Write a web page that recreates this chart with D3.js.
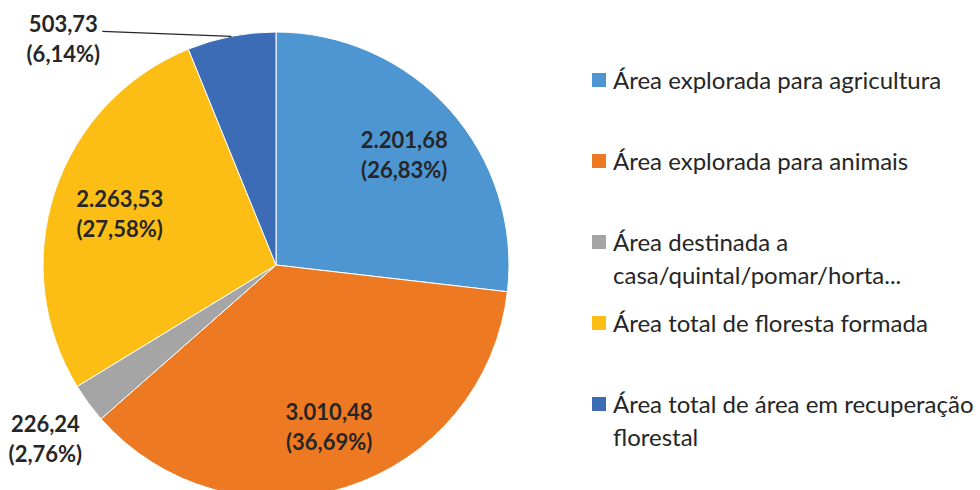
<!DOCTYPE html>
<html>
<head>
<meta charset="utf-8">
<script src="https://cdn.jsdelivr.net/npm/d3@7"></script>
<style>
    html, body { margin: 0; padding: 0; background: #fff; }
    svg { display: block; font-family: Lato, "Open Sans", sans-serif; }
</style>
</head>
<body>
<svg id="chart" width="980" height="490"></svg>
<script>
// --- DATOS ---
const categories = [
    'Área explorada para agricultura',
    'Área explorada para animais',
    'Área destinada a casa/quintal/pomar/horta...',
    'Área total de floresta formada',
    'Área total de área em recuperação florestal'
];
// legend lines (as wrapped in the original)
const legendLines = [
    ['Área explorada para agricultura'],
    ['Área explorada para animais'],
    ['Área destinada a', 'casa/quintal/pomar/horta...'],
    ['Área total de floresta formada'],
    ['Área total de área em recuperação', 'florestal']
];
const values = [2201.68, 3010.48, 226.24, 2263.53, 503.73];
const valueLabels = ['2.201,68', '3.010,48', '226,24', '2.263,53', '503,73'];
const percentLabels = ['(26,83%)', '(36,69%)', '(2,76%)', '(27,58%)', '(6,14%)'];
const sliceColors = ['#4E96D2', '#ED7A23', '#A5A5A5', '#FCBE14', '#3C6CB6'];

document.addEventListener('DOMContentLoaded', () => {
    const svg = d3.select('#chart');
    const cx = 276, cy = 265, R = 233;

    const data = values.map((v, i) => ({ name: categories[i], value: v, i }));
    const pie = d3.pie().sort(null).value(d => d.value);
    const arcs = pie(data);

    const arc = d3.arc().innerRadius(0).outerRadius(R);
    const labelArc = d3.arc().innerRadius(R * 0.72).outerRadius(R * 0.72);
    const edgeArc = d3.arc().innerRadius(R).outerRadius(R);

    const g = svg.append('g').attr('transform', `translate(${cx},${cy})`);

    g.selectAll('path.slice')
        .data(arcs)
        .join('path')
        .attr('class', 'slice')
        .attr('d', arc)
        .attr('fill', d => sliceColors[d.data.i])
        .attr('stroke', '#fff')
        .attr('stroke-width', 1);

    // --- ETIQUETAS ---
    // small slices get their label outside the pie (offset from the rim point)
    const outside = { 2: [-43, 34], 4: [-168, 1] };

    const labels = g.selectAll('g.lbl')
        .data(arcs)
        .join('g')
        .attr('class', 'lbl')
        .attr('transform', d => {
            let p;
            if (outside[d.data.i]) {
                const e = edgeArc.centroid(d);
                p = [e[0] + outside[d.data.i][0], e[1] + outside[d.data.i][1]];
            } else {
                p = labelArc.centroid(d);
                p = [p[0] + 3, p[1]];
            }
            return `translate(${p[0]},${p[1]})`;
        });

    labels.append('text')
        .attr('text-anchor', 'middle')
        .attr('font-weight', 700)
        .attr('font-size', 22)
        .attr('fill', '#262626')
        .attr('y', -5)
        .text(d => valueLabels[d.data.i]);
    labels.append('text')
        .attr('text-anchor', 'middle')
        .attr('font-weight', 700)
        .attr('font-size', 22)
        .attr('fill', '#262626')
        .attr('y', 25)
        .text(d => percentLabels[d.data.i]);

    // leader line for the last slice
    const lead = arcs[4];
    const e = edgeArc.centroid(lead);
    const lp = [e[0] + outside[4][0], e[1] + outside[4][1]];
    g.append('line')
        .attr('x1', e[0]).attr('y1', e[1])
        .attr('x2', lp[0] + 39).attr('y2', lp[1] - 6)
        .attr('stroke', '#262626')
        .attr('stroke-width', 1.3);

    // --- LEYENDA ---
    const legend = svg.append('g').attr('transform', 'translate(592,0)');
    const rowY = d3.scalePoint().domain(d3.range(categories.length)).range([89, 413]);

    const item = legend.selectAll('g.item')
        .data(categories)
        .join('g')
        .attr('class', 'item')
        .attr('transform', (d, i) => `translate(0,${rowY(i)})`);

    item.append('rect')
        .attr('x', 0).attr('y', -16)
        .attr('width', 14).attr('height', 14)
        .attr('fill', (d, i) => sliceColors[i]);

    item.append('text')
        .attr('x', 21)
        .attr('font-size', 24)
        .attr('fill', '#262626')
        .selectAll('tspan')
        .data((d, i) => legendLines[i])
        .join('tspan')
        .attr('x', 21)
        .attr('dy', (d, j) => j === 0 ? 0 : 33)
        .text(d => d);
});
</script>
</body>
</html>
